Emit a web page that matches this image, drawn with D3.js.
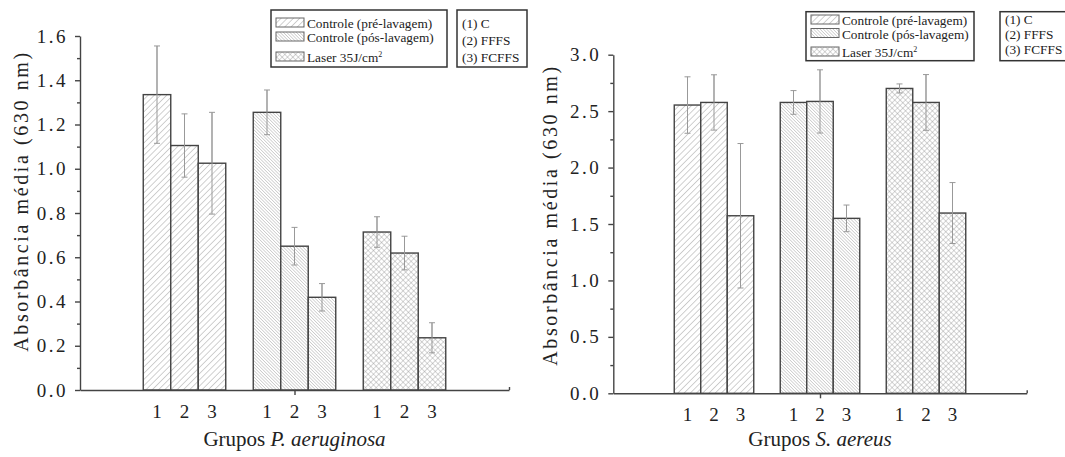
<!DOCTYPE html>
<html>
<head>
<meta charset="utf-8">
<script src="https://cdn.jsdelivr.net/npm/d3@7"></script>
<style>
  body { margin: 0; background: #fff; }
  svg { display: block; }
  text { font-family: "Liberation Serif", "Times New Roman", serif; fill: #222; }
</style>
</head>
<body>
<svg id="chart" width="1065" height="457"></svg>
<script>

// treatments (one per group of bars) and the numbered strains inside each group
var treatments = ["Controle (pré-lavagem)", "Controle (pós-lavagem)", "Laser 35J/cm2"]
var strains    = ["1", "2", "3"]
var strainKey  = ["(1) C", "(2) FFFS", "(3) FCFFS"]

// P. aeruginosa, mean absorbance and error, rows = treatment
var paMean = [[1.335, 1.105, 1.025], [1.255, 0.650, 0.419], [0.714, 0.619, 0.236]]
var paErr  = [[0.220, 0.143, 0.230], [0.101, 0.085, 0.062], [0.069, 0.076, 0.068]]

// S. aereus
var saMean = [[2.554, 2.577, 1.573], [2.577, 2.586, 1.550], [2.701, 2.577, 1.597]]
var saErr  = [[0.250, 0.245, 0.640], [0.105, 0.280, 0.118], [0.040, 0.247, 0.270]]

var paTicks = [0.0, 0.2, 0.4, 0.6, 0.8, 1.0, 1.2, 1.4, 1.6]
var saTicks = [0.0, 0.5, 1.0, 1.5, 2.0, 2.5, 3.0]

var svg  = d3.select("#chart")
var defs = svg.append("defs")

// fill patterns for the three treatments
function hatch(id, size, angle, cross, width) {
  var p = defs.append("pattern")
    .attr("id", id)
    .attr("patternUnits", "userSpaceOnUse")
    .attr("width", size).attr("height", size)
    .attr("patternTransform", "rotate(" + angle + ")")
  p.append("rect").attr("width", size).attr("height", size).attr("fill", "#fff")
  p.append("line").attr("x1", 0).attr("y1", 0).attr("x2", 0).attr("y2", size)
    .attr("stroke", "#8a8a8a").attr("stroke-width", width)
  if (cross) {
    p.append("line").attr("x1", 0).attr("y1", 0).attr("x2", size).attr("y2", 0)
      .attr("stroke", "#8a8a8a").attr("stroke-width", width)
  }
}
hatch("pat0", 4.4, 45, false, 0.8)
hatch("pat1", 2.3, -45, false, 0.7)
hatch("pat2", 3.8, 45, true, 0.7)

function drawPanel(cfg) {
  var x = d3.scaleLinear().domain([-2.3, 13.3]).range(cfg.xRange)
  var y = d3.scaleLinear().domain(cfg.yDomain).range(cfg.yRange)
  var bw = x(1) - x(0)
  var g = svg.append("g")

  // bars
  for (var t = 0; t < treatments.length; t++) {
    for (var s = 0; s < strains.length; s++) {
      var slot = t * 4 + s
      var v = cfg.mean[t][s], e = cfg.err[t][s]
      var cx = x(slot + 0.5)
      g.append("line")
        .attr("x1", cx).attr("x2", cx).attr("y1", y(v + e)).attr("y2", y(v - e))
        .attr("stroke", "#999").attr("stroke-width", 1)
      g.append("rect")
        .attr("x", x(slot)).attr("y", y(v))
        .attr("width", bw).attr("height", y(0) - y(v))
        .attr("fill", "url(#pat" + t + ")")
        .attr("stroke", "#444").attr("stroke-width", 1.4)
      // error bar drawn over the fill
      g.append("line")
        .attr("x1", cx).attr("x2", cx).attr("y1", y(v + e)).attr("y2", y(v - e))
        .attr("stroke", "#999").attr("stroke-width", 1)
      ;[v + e, v - e].forEach(function(yy) {
        g.append("line")
          .attr("x1", cx - 3).attr("x2", cx + 3).attr("y1", y(yy)).attr("y2", y(yy))
          .attr("stroke", "#999").attr("stroke-width", 1)
      })
      g.append("text")
        .attr("x", cx).attr("y", y(0) + 28)
        .attr("text-anchor", "middle").attr("font-size", 19)
        .text(strains[s])
    }
  }

  // y axis with minor ticks
  var minor = []
  for (var i = 0; i < cfg.ticks.length - 1; i++) minor.push((cfg.ticks[i] + cfg.ticks[i + 1]) / 2)
  var yMinor = g.append("g").attr("transform", "translate(" + cfg.xRange[0] + ",0)")
    .call(d3.axisLeft(y).tickValues(minor).tickSize(3).tickFormat(""))
  var yAxis = g.append("g").attr("transform", "translate(" + cfg.xRange[0] + ",0)")
    .call(d3.axisLeft(y).tickValues(cfg.ticks).tickSize(5).tickPadding(7).tickSizeOuter(0)
      .tickFormat(d3.format(".1f")))
  yMinor.select(".domain").remove()
  yAxis.selectAll("text").attr("font-size", 19).attr("letter-spacing", 2.5)
    .attr("font-family", "Liberation Serif, serif").attr("fill", "#222")

  // x axis: one tick under the middle group, a small tick at the end
  var xAxis = g.append("g").attr("transform", "translate(0," + y(0) + ")")
    .call(d3.axisBottom(x).tickValues([5.5]).tickSize(5).tickSizeOuter(0).tickFormat(""))
  var xEnd = g.append("g").attr("transform", "translate(0," + y(0) + ")")
    .call(d3.axisTop(x).tickValues([13.3]).tickSize(3).tickSizeOuter(0).tickFormat(""))
  xEnd.select(".domain").remove()
  g.selectAll(".domain, .tick line").attr("stroke", "#444").attr("stroke-width", 1.4)

  // axis titles
  g.append("text")
    .attr("transform", "translate(" + cfg.yTitle[0] + "," + cfg.yTitle[1] + ") rotate(-90)")
    .attr("text-anchor", "middle").attr("font-size", 20).attr("letter-spacing", 2.6)
    .text("Absorbância média (630 nm)")
  var xt = g.append("text")
    .attr("x", x(5.5)).attr("y", 446)
    .attr("text-anchor", "middle").attr("font-size", 21)
  xt.append("tspan").text("Grupos ")
  xt.append("tspan").attr("font-style", "italic").text(cfg.species[0])
  xt.append("tspan").text(" ")
  xt.append("tspan").attr("font-style", "italic").text(cfg.species[1])

  // legend boxes
  var L = cfg.legend
  g.append("rect").attr("x", L.x).attr("y", L.y).attr("width", L.w).attr("height", L.h)
    .attr("fill", "#fff").attr("stroke", "#333").attr("stroke-width", 1.5)
  treatments.forEach(function(name, t) {
    var base = L.rows[t]
    g.append("rect")
      .attr("x", L.x + 5).attr("y", base - 10).attr("width", 28).attr("height", 9)
      .attr("fill", "url(#pat" + t + ")").attr("stroke", "#666").attr("stroke-width", 1)
    var tx = g.append("text").attr("x", L.x + 36).attr("y", base).attr("font-size", 13.3)
    if (t == 2) {
      tx.append("tspan").text("Laser 35J/cm")
      tx.append("tspan").attr("font-size", 8).attr("dy", -5).text("2")
    } else {
      tx.text(name)
    }
  })
  var K = cfg.key
  g.append("rect").attr("x", K.x).attr("y", L.y).attr("width", K.w).attr("height", L.h)
    .attr("fill", "#fff").attr("stroke", "#333").attr("stroke-width", 1.5)
  strainKey.forEach(function(k, i) {
    g.append("text").attr("x", K.x + 5).attr("y", K.rows[i]).attr("font-size", 13.3).text(k)
  })
}

drawPanel({
  xRange: [80, 509], yDomain: [0, 1.6], yRange: [390, 36],
  mean: paMean, err: paErr, ticks: paTicks,
  yTitle: [28, 201], species: ["P.", "aeruginosa"],
  legend: { x: 271, y: 10, w: 176, h: 57, rows: [28, 42, 62] },
  key: { x: 457, w: 70, rows: [28, 45, 62] }
})

drawPanel({
  xRange: [613.3, 1026.7], yDomain: [0, 3.0], yRange: [393.3, 54.7],
  mean: saMean, err: saErr, ticks: saTicks,
  yTitle: [557, 215], species: ["S.", "aereus"],
  legend: { x: 806, y: 11.7, w: 168, h: 49, rows: [25, 38.5, 57] },
  key: { x: 1000, w: 66, rows: [24, 38.5, 53.5] }
})

</script>
</body>
</html>
